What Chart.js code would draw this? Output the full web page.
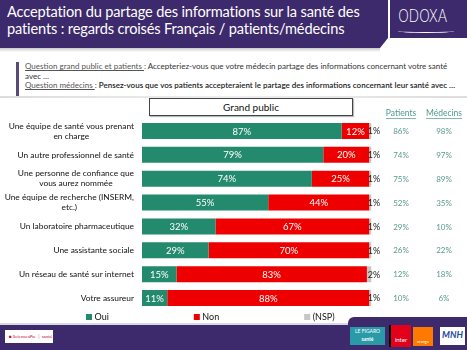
<!DOCTYPE html>
<html>
<head>
<meta charset="utf-8">
<script src="https://cdn.jsdelivr.net/npm/chart.js@4/dist/chart.umd.min.js"></script>
<style>
  html,body{margin:0;padding:0;background:#fff;}
  body{width:467px;height:350px;position:relative;overflow:hidden;font-family:Lato,"Open Sans",sans-serif;}
  .banner{position:absolute;left:0;top:0;width:388px;height:48px;background:#3d2a6c;
    clip-path:polygon(0 0,388px 0,388px 38px,380px 48px,0 48px);}
  .bshadow{position:absolute;left:0;top:48px;width:380px;height:4px;background:linear-gradient(#c9c9c9,#fff);}
  .title{position:absolute;left:7px;top:3px;color:#fff;font-size:14.6px;line-height:17px;letter-spacing:-0.15px;white-space:nowrap;}
  .logo{position:absolute;left:390px;top:0;width:77px;height:38px;background:#3d2a6c;}
  .sep{position:absolute;left:388px;top:0;width:1.5px;height:38px;background:#fff;}
  .odoxa{position:absolute;left:398px;top:6px;color:#fff;font-family:"DejaVu Sans",sans-serif;font-weight:300;font-size:17px;letter-spacing:-0.5px;transform:scaleX(0.82);transform-origin:left top;}
  .odoxaline{position:absolute;left:398px;top:29px;width:56px;height:3px;border-bottom:1px solid #fff;border-radius:0 0 50% 50%;}
  .qbar{position:absolute;left:16px;top:62px;width:2.5px;height:34px;background:#5a4a7a;}
  .q{position:absolute;left:25px;top:62px;font-size:8px;line-height:9.6px;color:#333;white-space:nowrap;}
  .q u{color:#555;}
  .q b{font-weight:600;color:#222;}
  .hline{position:absolute;left:0;top:96px;width:467px;height:2px;background:linear-gradient(90deg,#ddd,#eee,#ddd);}
  .gp{position:absolute;left:149px;top:98px;width:202px;height:16px;border:1px solid #444;background:#fff;
    font-size:10px;line-height:16px;text-align:center;color:#111;box-shadow:1px 1px 1px #bbb;}
  .foot{position:absolute;left:0;top:325px;width:467px;height:25px;background:#3d2a6c;}
  .foot2{position:absolute;left:348px;top:317px;width:119px;height:9px;background:#3d2a6c;border-radius:6px 0 0 0;}
  .fline{position:absolute;left:0;top:323px;width:350px;height:2px;background:#d8d8e0;}
  .sp{position:absolute;left:5px;top:330px;width:48px;height:13px;background:#fff;font-size:4.5px;color:#c03;line-height:13px;padding-left:4px;box-sizing:border-box;}
  .fig{position:absolute;left:350px;top:327px;width:35px;height:18px;background:#2a9aa8;color:#fff;font-size:5px;line-height:8px;text-align:center;}
  .inter{position:absolute;left:389px;top:325px;width:20px;height:22px;background:#e2001a;color:#fff;font-size:6px;line-height:30px;text-align:center;border-left:2px solid #000;}
  .orange{position:absolute;left:413px;top:327px;width:20px;height:19px;background:#ff7900;color:#fff;font-size:4px;line-height:30px;text-align:center;}
  .mnh{position:absolute;left:440px;top:327px;width:25px;height:18px;background:#fff;color:#1a4a9a;font-size:9px;font-style:italic;font-weight:700;line-height:15px;text-align:center;}
  #wrap{position:absolute;left:0;top:0;width:467px;height:350px;z-index:5;}
</style>
</head>
<body>
<div class="banner"></div>
<div class="bshadow"></div>
<div class="title">Acceptation du partage des informations sur la santé des<br>patients : regards croisés Français / patients/médecins</div>
<div class="logo"></div>
<div class="sep"></div>
<div class="odoxa">ODOXA</div>
<div class="odoxaline"></div>
<div class="qbar"></div>
<div class="q"><u>Question grand public et patients </u>: Accepteriez-vous que votre médecin partage des informations concernant votre santé<br>avec …<br><u>Question médecins </u>: <b>Pensez-vous que vos patients accepteraient le partage des informations concernant leur santé avec …</b></div>
<div class="hline"></div>
<div class="gp">Grand public</div>
<div class="fline"></div>
<div class="foot2"></div>
<div class="foot"></div>
<div class="sp">■ SciencesPo. │ santé</div>
<div class="fig">LE FIGARO<br><b>santé</b></div>
<div class="inter">inter</div>
<div class="orange">orange</div>
<div class="mnh">MNH</div>
<div id="wrap"><canvas id="c" width="467" height="350"></canvas></div>
<script>
const categories = [
  ['Une équipe de santé vous prenant', 'en charge'],
  'Un autre professionnel de santé',
  ['Une personne de confiance que', 'vous aurez nommée'],
  ['Une équipe de recherche (INSERM,', 'etc.)'],
  'Un laboratoire pharmaceutique',
  'Une assistante sociale',
  'Un réseau de santé sur internet',
  'Votre assureur'
];
const oui = [87, 79, 74, 55, 32, 29, 15, 11];
const non = [12, 20, 25, 44, 67, 70, 83, 88];
const nsp = [1, 1, 1, 1, 1, 1, 2, 1];
const patients = [86, 74, 75, 52, 29, 26, 12, 10];
const medecins = [98, 97, 89, 35, 10, 22, 18, 6];
const seriesNames = ['Oui', 'Non', '(NSP)'];
const colHeaders = ['Patients', 'Médecins'];

const FONT = 'Lato, "Open Sans", sans-serif';

const labelsPlugin = {
  id: 'customLabels',
  afterDatasetsDraw(chart) {
    const ctx = chart.ctx;
    const y = chart.scales.y;
    ctx.save();
    ctx.font = '8.4px ' + FONT;
    ctx.fillStyle = '#111';
    ctx.textBaseline = 'middle';
    chart.data.labels.forEach((lab, i) => {
      const lines = Array.isArray(lab) ? lab : [lab];
      const w = Math.max(...lines.map(l => ctx.measureText(l).width));
      const right = 134;
      const cx = right - w / 2;
      const yc = y.getPixelForValue(i);
      const lh = 10;
      lines.forEach((l, k) => {
        ctx.textAlign = 'center';
        ctx.fillText(l, cx, yc + (k - (lines.length - 1) / 2) * lh);
      });
    });
    chart.data.datasets.forEach((ds, di) => {
      const meta = chart.getDatasetMeta(di);
      meta.data.forEach((bar, i) => {
        const v = ds.data[i];
        if (di < 2) {
          ctx.font = '9.5px ' + FONT;
          ctx.fillStyle = '#fff';
          ctx.textAlign = 'center';
          ctx.fillText(v + '%', (bar.x + bar.base) / 2, bar.y + 0.5);
        } else {
          ctx.font = '9px ' + FONT;
          ctx.fillStyle = '#222';
          ctx.textAlign = 'center';
          ctx.fillText(v + '%', bar.x + 2.5, bar.y + 0.5);
        }
      });
    });
    const cols = [{vals: patients, x: 401}, {vals: medecins, x: 444}];
    ctx.fillStyle = '#4f9a8c';
    ctx.font = '8.5px ' + FONT;
    ctx.textAlign = 'center';
    colHeaders.forEach((h, k) => {
      const hx = cols[k].x;
      ctx.fillText(h, hx, 113);
      const w = ctx.measureText(h).width;
      ctx.fillRect(hx - w / 2, 118, w, 0.7);
    });
    ctx.fillStyle = '#5a9a90';
    ctx.font = '8px ' + FONT;
    cols.forEach(c => {
      c.vals.forEach((v, i) => {
        ctx.fillText(v + '%', c.x, y.getPixelForValue(i) + 0.5);
      });
    });
    ctx.font = '9px ' + FONT;
    ctx.textAlign = 'left';
    let lx = 86;
    const ly = 317;
    chart.data.datasets.forEach(ds => {
      ctx.fillStyle = ds.backgroundColor;
      ctx.fillRect(lx, ly - 3, 6, 6);
      ctx.fillStyle = '#111';
      ctx.fillText(ds.label, lx + 8.5, ly + 0.5);
      lx += 8.5 + ctx.measureText(ds.label).width + 85;
    });
    ctx.restore();
  }
};

new Chart(document.getElementById('c'), {
  type: 'bar',
  data: {
    labels: categories,
    datasets: [
      {label: seriesNames[0], data: oui, backgroundColor: '#238a6e'},
      {label: seriesNames[1], data: non, backgroundColor: '#ee0000'},
      {label: seriesNames[2], data: nsp, backgroundColor: '#c6c6c6'}
    ]
  },
  options: {
    indexAxis: 'y',
    responsive: false,
    animation: false,
    layout: {padding: {left: 142, right: 95.5, top: 119, bottom: 40}},
    datasets: {bar: {categoryPercentage: 1, barPercentage: 0.67, borderWidth: 0}},
    scales: {
      x: {display: false, stacked: true, min: 0, max: 100},
      y: {display: false, stacked: true}
    },
    plugins: {legend: {display: false}, tooltip: {enabled: false}}
  },
  plugins: [labelsPlugin]
});
</script>
</body>
</html>
